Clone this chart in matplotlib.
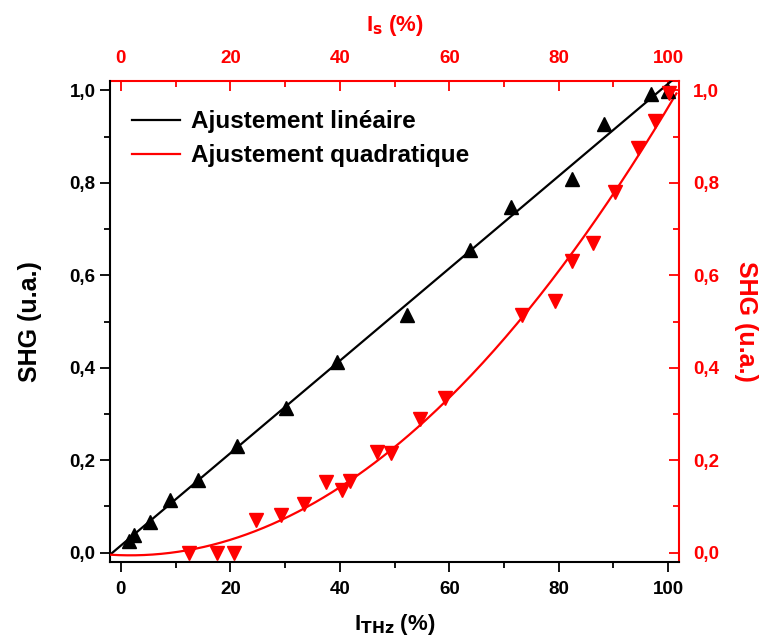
import numpy as np
import matplotlib
matplotlib.use('Agg')
import matplotlib.pyplot as plt
from matplotlib.ticker import FixedLocator, FuncFormatter

plt.rcParams['font.family'] = ['Liberation Sans', 'DejaVu Sans']
plt.rcParams['font.weight'] = 'bold'

# SHG vs I_THz (black, up triangles)
thz_x = [1.4, 2.4, 5.3, 8.9, 14.1, 21.2, 30.2, 39.5, 52.2, 63.8, 71.3, 82.5, 88.2, 96.8, 99.9]
thz_y = [0.026, 0.039, 0.067, 0.114, 0.158, 0.230, 0.314, 0.413, 0.515, 0.654, 0.747, 0.808, 0.927, 0.991, 0.999]

# SHG vs I_s (red, down triangles)
s_x = [12.4, 17.5, 20.6, 24.7, 29.3, 33.5, 37.5, 40.4, 41.9, 46.8, 49.4, 54.6, 59.3,
       73.2, 79.4, 82.4, 86.2, 90.2, 94.5, 97.6, 100.1]
s_y = [0.0, 0.0, 0.0, 0.071, 0.082, 0.106, 0.153, 0.136, 0.156, 0.218, 0.216, 0.289, 0.335,
       0.513, 0.544, 0.630, 0.670, 0.780, 0.875, 0.933, 0.994]

x_major = [0, 20, 40, 60, 80, 100]
x_minor = [10, 30, 50, 70, 90]
y_major = [0.0, 0.2, 0.4, 0.6, 0.8, 1.0]
y_minor = [0.1, 0.3, 0.5, 0.7, 0.9]

lin = np.polyfit(thz_x, thz_y, 1)
quad = np.polyfit(s_x, s_y, 2)
xfit = np.linspace(-2, 101.5, 200)

red = '#ff0000'
comma = FuncFormatter(lambda v, p: ('%.1f' % v).replace('.', ','))

fig = plt.figure(figsize=(7.67, 6.43), dpi=100)
ax = fig.add_axes([0.1434, 0.126, 0.742, 0.748])

ax.plot(xfit, np.polyval(lin, xfit), color='black', lw=1.6, label='Ajustement linéaire', zorder=3)
ax.plot(xfit, np.polyval(quad, xfit), color=red, lw=1.6, label='Ajustement quadratique', zorder=3)
ax.plot(thz_x, thz_y, '^', color='black', ms=10, zorder=4)
ax.plot(s_x, s_y, 'v', color=red, ms=10, zorder=4)

ax.set_xlim(-2, 102)
ax.set_ylim(-0.02, 1.02)
ax.xaxis.set_major_locator(FixedLocator(x_major))
ax.xaxis.set_minor_locator(FixedLocator(x_minor))
ax.yaxis.set_major_locator(FixedLocator(y_major))
ax.yaxis.set_minor_locator(FixedLocator(y_minor))
ax.yaxis.set_major_formatter(comma)
ax.tick_params(which='major', direction='out', length=7, width=1.3, labelsize=13.5)
ax.tick_params(axis='x', which='major', pad=7)
ax.tick_params(which='minor', direction='out', length=4, width=1.3)
ax.spines['top'].set_visible(False)
ax.spines['right'].set_visible(False)
for s in ['left', 'bottom']:
    ax.spines[s].set_linewidth(1.5)

ax.set_xlabel(r'I$_{\mathbf{THz}}$ (%)', fontsize=16, fontweight='bold', labelpad=10)
ax.set_ylabel('SHG (u.a.)', fontsize=18, fontweight='bold', labelpad=20)

top = ax.secondary_xaxis('top')
top.xaxis.set_major_locator(FixedLocator(x_major))
top.xaxis.set_minor_locator(FixedLocator(x_minor))
top.tick_params(which='major', direction='in', length=7, width=1.3, colors=red, labelsize=13.5, pad=10)
top.tick_params(which='minor', direction='in', length=4, width=1.3, colors=red)
top.spines['top'].set_color(red)
top.spines['top'].set_linewidth(1.5)
top.set_xlabel(r'I$_{\mathbf{s}}$ (%)', fontsize=16, fontweight='bold', color=red, labelpad=14)

right = ax.secondary_yaxis('right')
right.yaxis.set_major_locator(FixedLocator(y_major))
right.yaxis.set_minor_locator(FixedLocator(y_minor))
right.yaxis.set_major_formatter(comma)
right.tick_params(which='major', direction='in', length=7, width=1.3, colors=red, labelsize=13.5, pad=10)
right.tick_params(which='minor', direction='in', length=4, width=1.3, colors=red)
right.spines['right'].set_color(red)
right.spines['right'].set_linewidth(1.5)
right.set_ylabel('SHG (u.a.)', fontsize=18, fontweight='bold', color=red, rotation=270, labelpad=28)

leg = ax.legend(loc='upper left', bbox_to_anchor=(0.0, 0.985), frameon=False,
                prop={'size': 17.5, 'weight': 'bold'}, handlelength=2.0, handletextpad=0.45,
                labelspacing=0.45)

fig.savefig('out.png', dpi=100)
